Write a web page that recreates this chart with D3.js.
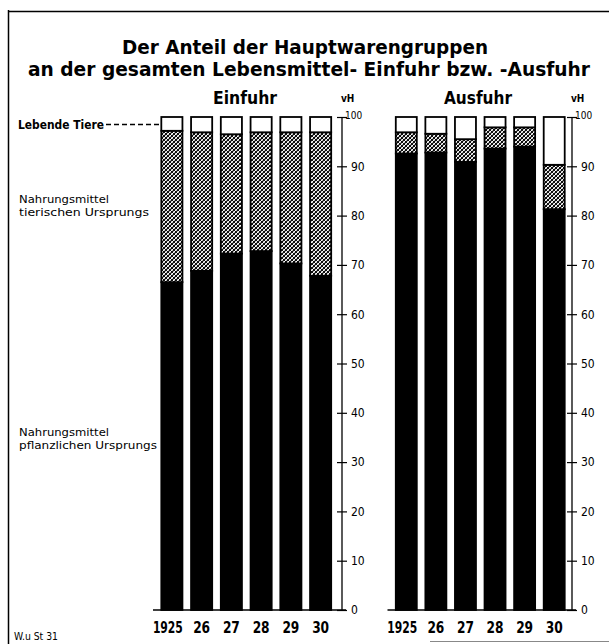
<!DOCTYPE html>
<html><head><meta charset="utf-8">
<script src="https://cdn.jsdelivr.net/npm/d3@7"></script>
<style>body{margin:0;background:#fff}svg{display:block}</style>
</head><body>
<script>
const years = ["1925","26","27","28","29","30"];
const seriesNames = ["pflanzlich","tierisch","lebend"];
// Einfuhr (Import) shares in vH
const einPflanzlich = [66.5, 68.8, 72.3, 72.8, 70.3, 67.8];
const einLebend     = [2.8, 3.1, 3.5, 3.1, 3.1, 3.1];
const einTierisch   = einPflanzlich.map((v,i)=> +(100 - v - einLebend[i]).toFixed(1));
// Ausfuhr (Export) shares in vH
const ausPflanzlich = [92.6, 92.8, 90.9, 93.6, 94.0, 81.3];
const ausLebend     = [3.1, 3.4, 4.5, 2.1, 2.1, 9.7];
const ausTierisch   = ausPflanzlich.map((v,i)=> +(100 - v - ausLebend[i]).toFixed(1));
const yTicks = [0,10,20,30,40,50,60,70,80,90,100];

const W=609,H=644;
const svg=d3.select("body").append("svg").attr("width",W).attr("height",H);
const defs=svg.append("defs");
const pat=defs.append("pattern").attr("id","hatch").attr("patternUnits","userSpaceOnUse").attr("width",4).attr("height",4);
pat.append("rect").attr("width",4).attr("height",4).attr("fill","#fff");
pat.append("path").attr("d","M-1,1 L1,-1 M0,4 L4,0 M3,5 L5,3").attr("stroke","#000").attr("stroke-width",1.2);
pat.append("path").attr("d","M0,0 L4,4 M-1,3 L1,5 M3,-1 L5,1").attr("stroke","#000").attr("stroke-width",0.9);

// frame
svg.append("line").attr("x1",8.5).attr("x2",8.5).attr("y1",10).attr("y2",644).attr("stroke","#000").attr("stroke-width",1.5);
svg.append("line").attr("x1",8).attr("x2",609).attr("y1",11.5).attr("y2",11.5).attr("stroke","#000").attr("stroke-width",1.5);
svg.append("line").attr("x1",430).attr("x2",609).attr("y1",641.5).attr("y2",641.5).attr("stroke","#888").attr("stroke-width",1);

const font="'DejaVu Sans Condensed','DejaVu Sans',sans-serif";
function txt(x,y,s,size,weight,anchor,len){
  const t=svg.append("text").attr("x",x).attr("y",y).text(s).attr("font-family",font)
    .attr("font-size",size).attr("font-weight",weight||"normal").attr("text-anchor",anchor||"start").attr("fill","#000");
  if(len) t.attr("textLength",len).attr("lengthAdjust","spacingAndGlyphs");
  return t;
}
txt(305,54,"Der Anteil der Hauptwarengruppen",20,"bold","middle",366);
txt(309,76,"an der gesamten Lebensmittel- Einfuhr bzw. -Ausfuhr",20,"bold","middle",562);
txt(245,104,"Einfuhr",17,"bold","middle",64);
txt(478,104,"Ausfuhr",17,"bold","middle",68);

const y=d3.scaleLinear().domain([0,100]).range([610,117]);

function panel(xRange,axisX,pfl,tie,leb){
  const x=d3.scaleBand().domain(years).range(xRange).paddingInner(0.29).paddingOuter(0.145);
  const g=svg.append("g");
  const rows=years.map((yr,i)=>({yr,pflanzlich:pfl[i],tierisch:tie[i],lebend:leb[i]}));
  const stack=d3.stack().keys(seriesNames)(rows);
  const fills={pflanzlich:"#000",tierisch:"url(#hatch)",lebend:"#fff"};
  stack.forEach(s=>{
    g.selectAll(null).data(s).enter().append("rect")
      .attr("x",d=>x(d.data.yr)).attr("width",x.bandwidth())
      .attr("y",d=>y(d[1])).attr("height",d=>y(d[0])-y(d[1]))
      .attr("fill",fills[s.key]).attr("stroke","#000").attr("stroke-width",1.8);
  });
  // baseline
  g.append("line").attr("x1",xRange[0]-4).attr("x2",axisX+4).attr("y1",y(0)).attr("y2",y(0)).attr("stroke","#000").attr("stroke-width",1.5);
  // axis
  const ax=d3.axisRight(y).tickValues(yTicks).tickSize(5).tickPadding(4).tickFormat(d=>d===100?"":d);
  const ag=svg.append("g").attr("transform",`translate(${axisX},0)`).call(ax);
  ag.select(".domain").remove();
  ag.append("line").attr("x1",0).attr("x2",0).attr("y1",y(100)).attr("y2",y(0)).attr("stroke","#000").attr("stroke-width",1.3);
  ag.selectAll(".tick line").attr("x1",-5).attr("stroke","#000").attr("stroke-width",1.2);
  ag.selectAll(".tick text").attr("font-family",font).attr("font-size",12).attr("fill","#000");
  ag.append("text").attr("x",3).attr("y",y(100)+2).text("100").attr("font-family",font).attr("font-size",10).attr("fill","#000");
  ag.append("text").attr("x",-1).attr("y",102).text("vH").attr("font-family",font).attr("font-size",10).attr("font-weight","bold").attr("fill","#000");
  // year labels
  g.selectAll(null).data(years).enter().append("text")
    .attr("x",d=>x(d)+x.bandwidth()/2-(d==="1925"?4:0)).attr("y",633).text(d=>d)
    .attr("text-anchor","middle").attr("font-family",font).attr("font-size",15).attr("font-weight","bold").attr("fill","#000")
    .attr("textLength",d=>d.length===4?30:17).attr("lengthAdjust","spacingAndGlyphs");
  return x;
}
panel([157,335.5],342,einPflanzlich,einTierisch,einLebend);
panel([391.5,569],572,ausPflanzlich,ausTierisch,ausLebend);

// left labels
txt(18,129,"Lebende Tiere",12,"bold","start",86);
svg.append("line").attr("x1",106).attr("x2",160).attr("y1",124.5).attr("y2",124.5).attr("stroke","#000").attr("stroke-width",1.3).attr("stroke-dasharray","5,3");
txt(19,203,"Nahrungsmittel",11,"normal","start",90);
txt(19,216,"tierischen Ursprungs",11,"normal","start",130);
txt(19,436,"Nahrungsmittel",11,"normal","start",90);
txt(19,449,"pflanzlichen Ursprungs",11,"normal","start",138);
txt(14,640,"W.u St 31",10,"normal","start",44);
</script>
</body></html>
